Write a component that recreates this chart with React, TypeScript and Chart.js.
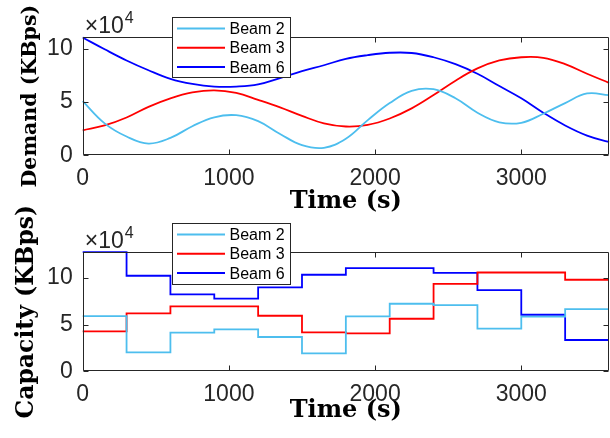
import React, { useEffect, useRef } from 'react';
import { Chart, registerables } from 'chart.js';

Chart.register(...registerables);

// ---------- data (values in units of 10^4 KBps) ----------
const DEMAND_TIME = [0, 150, 300, 450, 600, 750, 900, 1050, 1200, 1350, 1500, 1650, 1800, 1950, 2100, 2250, 2400, 2550, 2700, 2850, 3000, 3150, 3300, 3450, 3600];
const DEMAND_BEAM2 = [5.08, 3.0, 1.76, 1.1, 1.63, 2.73, 3.57, 3.76, 3.2, 2.0, 0.95, 0.7, 1.55, 3.3, 4.9, 6.05, 6.2, 5.35, 4.0, 3.1, 3.05, 3.9, 4.9, 5.8, 5.64];
const DEMAND_BEAM3 = [2.35, 2.8, 3.55, 4.55, 5.35, 5.9, 6.1, 5.85, 5.2, 4.5, 3.7, 3.0, 2.7, 2.85, 3.45, 4.4, 5.65, 7.0, 8.15, 8.9, 9.2, 9.15, 8.55, 7.65, 6.8];
const DEMAND_BEAM6 = [11.05, 9.95, 8.9, 7.98, 7.18, 6.7, 6.45, 6.45, 6.65, 7.25, 7.9, 8.45, 9.05, 9.4, 9.62, 9.6, 9.2, 8.55, 7.65, 6.5, 5.35, 4.0, 2.8, 1.85, 1.25];

const CAPACITY_TIME = [0, 300, 600, 900, 1200, 1500, 1800, 2100, 2400, 2700, 3000, 3300];
const CAPACITY_BEAM2 = [5.93, 2.04, 4.14, 4.5, 3.68, 1.93, 5.89, 7.25, 7.1, 4.57, 5.86, 6.68];
const CAPACITY_BEAM3 = [4.29, 6.21, 6.96, 6.96, 5.96, 4.18, 4.07, 5.64, 9.39, 10.6, 10.6, 9.82];
const CAPACITY_BEAM6 = [12.79, 10.25, 8.25, 7.79, 9.0, 10.36, 11.07, 11.07, 10.57, 8.71, 6.07, 3.36];

const SERIES_LABELS = ['Beam 2', 'Beam 3', 'Beam 6'];
const SERIES_COLORS = ['#4DBEEE', '#FF0000', '#0000FF'];

const TIME_END = 3600;
const X_TICKS = [0, 1000, 2000, 3000];
const Y_TICKS = [0, 5, 10];
const DEMAND_Y_MAX = 11.1;
const CAPACITY_Y_MAX = 12.8;
const EXPONENT = '4';

// ---------- styling ----------
const SANS = "'Liberation Sans', Arial, Helvetica, sans-serif";
const SERIF = "'DejaVu Serif', 'Liberation Serif', serif";
const AXIS = '#262626';
const W = 610;
const H = 438;

const decorPlugin = {
  id: 'decor',
  afterDraw(chart: any) {
    const o = chart.options.plugins.decor;
    const { ctx, chartArea: a } = chart;
    const xs = chart.scales.x;
    const ys = chart.scales.y;
    ctx.save();
    ctx.strokeStyle = AXIS;
    ctx.lineWidth = 1;
    const L = Math.round(a.left) + 0.5;
    const R = Math.round(a.right) - 0.5;
    const T = Math.round(a.top) + 0.5;
    const B = Math.round(a.bottom) - 0.5;
    ctx.beginPath();
    ctx.rect(L, T, R - L, B - T);
    const tl = 5;
    xs.ticks.forEach((t: any) => {
      const p = Math.round(xs.getPixelForValue(t.value)) + 0.5;
      ctx.moveTo(p, B); ctx.lineTo(p, B - tl);
      ctx.moveTo(p, T); ctx.lineTo(p, T + tl);
    });
    ys.ticks.forEach((t: any) => {
      const p = Math.round(ys.getPixelForValue(t.value)) + 0.5;
      ctx.moveTo(L, p); ctx.lineTo(L + tl, p);
      ctx.moveTo(R, p); ctx.lineTo(R - tl, p);
    });
    ctx.stroke();

    // exponent label
    ctx.fillStyle = AXIS;
    ctx.textAlign = 'left';
    ctx.textBaseline = 'alphabetic';
    ctx.font = `23px ${SANS}`;
    const base = a.top - o.expGap;
    ctx.fillText('×10', a.left + 2, base);
    const w = ctx.measureText('×10').width;
    ctx.font = `16px ${SANS}`;
    ctx.fillText(EXPONENT, a.left + 2 + w + 1, base - 10);

    // legend
    const { lx, ly, lw, lh } = o;
    ctx.fillStyle = '#ffffff';
    ctx.fillRect(lx, ly, lw, lh);
    ctx.strokeStyle = AXIS;
    ctx.lineWidth = 1;
    ctx.strokeRect(lx + 0.5, ly + 0.5, lw, lh);
    chart.data.datasets.forEach((ds: any, i: number) => {
      const y = ly + 11.5 + i * 19.3;
      ctx.strokeStyle = ds.borderColor;
      ctx.lineWidth = 2;
      ctx.beginPath();
      ctx.moveTo(lx + 5, y);
      ctx.lineTo(lx + 53, y);
      ctx.stroke();
      ctx.fillStyle = '#000';
      ctx.font = `16px ${SANS}`;
      ctx.textBaseline = 'middle';
      ctx.fillText(ds.label, lx + 57.5, y + 1);
    });
    ctx.restore();
  },
};

function makeConfig(kind: 'demand' | 'capacity'): any {
  const isDemand = kind === 'demand';
  const seriesValues = isDemand
    ? [DEMAND_BEAM2, DEMAND_BEAM3, DEMAND_BEAM6]
    : [CAPACITY_BEAM2, CAPACITY_BEAM3, CAPACITY_BEAM6];
  const datasets = seriesValues.map((vals, i) => {
    let data: any[];
    if (isDemand) {
      data = DEMAND_TIME.map((t, j) => ({ x: t, y: vals[j] }));
    } else {
      data = CAPACITY_TIME.map((t, j) => ({ x: t, y: vals[j] }));
      data.push({ x: TIME_END, y: vals[vals.length - 1] });
    }
    return {
      label: SERIES_LABELS[i],
      data,
      borderColor: SERIES_COLORS[i],
      backgroundColor: SERIES_COLORS[i],
      borderWidth: 1.8,
      pointRadius: 0,
      fill: false,
      clip: 3,
      tension: isDemand ? 0.4 : 0,
      stepped: isDemand ? false : 'before',
    };
  });
  const padTop = isDemand ? 37 : 252;
  const padBottom = isDemand ? 219 : 0;
  const xAxisHeight = isDemand ? 63.7 : 66.7;
  return {
    type: 'line',
    data: { datasets },
    plugins: [decorPlugin],
    options: {
      responsive: false,
      animation: false,
      devicePixelRatio: 1,
      layout: { padding: { top: padTop, right: 1, left: 0, bottom: padBottom } },
      plugins: {
        legend: { display: false },
        tooltip: { enabled: false },
        decor: isDemand
          ? { lx: 172, ly: 17, lw: 118, lh: 60, expGap: 4 }
          : { lx: 172, ly: 223, lw: 118, lh: 61, expGap: 4 },
      },
      scales: {
        x: {
          type: 'linear',
          min: 0,
          max: TIME_END,
          afterBuildTicks: (s: any) => { s.ticks = X_TICKS.map((v) => ({ value: v })); },
          afterFit: (s: any) => { s.height = xAxisHeight; },
          grid: { display: false, drawTicks: false },
          border: { display: false },
          ticks: {
            padding: 10,
            maxRotation: 0,
            autoSkip: false,
            color: AXIS,
            font: { family: SANS, size: 23 },
            callback: (v: any) => String(v),
          },
          title: {
            display: true,
            text: 'Time (s)',
            color: '#000',
            font: { family: SERIF, weight: 'bold', size: 24, lineHeight: 1.2 },
            padding: { top: 0, bottom: isDemand ? 2.6 : 12.6 },
          },
        },
        y: {
          type: 'linear',
          min: 0,
          max: isDemand ? DEMAND_Y_MAX : CAPACITY_Y_MAX,
          afterBuildTicks: (s: any) => { s.ticks = Y_TICKS.map((v) => ({ value: v })); },
          afterFit: (s: any) => { s.width = 82.7; },
          grid: { display: false, drawTicks: false },
          border: { display: false },
          ticks: {
            padding: 10,
            autoSkip: false,
            color: AXIS,
            font: { family: SANS, size: 23 },
            callback: (v: any) => String(v),
          },
          title: {
            display: true,
            text: isDemand ? 'Demand (KBps)' : 'Capacity (KBps)',
            color: '#000',
            font: { family: SERIF, weight: 'bold', size: isDemand ? 20.5 : 23.5, lineHeight: 1.2 },
            padding: { top: isDemand ? 18.7 : 12.9, bottom: 0 },
          },
        },
      },
    },
  };
}

function ChartCanvas({ kind }: { kind: 'demand' | 'capacity' }) {
  const ref = useRef<HTMLCanvasElement>(null);
  useEffect(() => {
    const chart = new Chart(ref.current as HTMLCanvasElement, makeConfig(kind));
    return () => chart.destroy();
  }, [kind]);
  return (
    <canvas
      ref={ref}
      width={W}
      height={H}
      style={{ position: 'absolute', left: 0, top: 0, width: W, height: H, display: 'block' }}
    />
  );
}

export default function App() {
  return (
    <div style={{ position: 'absolute', left: 0, top: 0, width: W, height: H, background: '#fff', overflow: 'hidden' }}>
      <ChartCanvas kind="demand" />
      <ChartCanvas kind="capacity" />
    </div>
  );
}
